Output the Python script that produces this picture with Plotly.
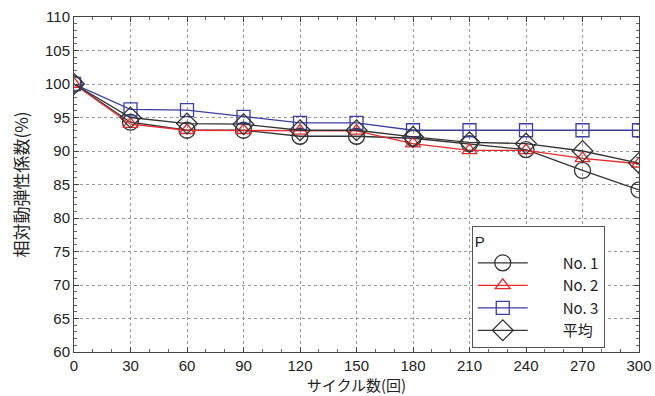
import plotly.graph_objects as go

cycles = [0, 30, 60, 90, 120, 150, 180, 210, 240, 270, 300]
no1 = [100, 94.3, 93.1, 93.1, 92.2, 92.2, 91.9, 91.1, 90.2, 87.1, 84.2]
no2 = [100, 94.0, 93.1, 93.1, 93.0, 93.0, 91.1, 90.1, 90.1, 88.9, 88.1]
no3 = [100, 96.2, 96.1, 95.1, 94.2, 94.2, 93.1, 93.1, 93.1, 93.1, 93.1]
avg = [100, 95.0, 94.1, 94.0, 93.1, 93.1, 92.1, 91.3, 91.1, 90.0, 88.2]

names = ["No. 1", "No. 2", "No. 3", "平均"]
series = [no1, no2, no3, avg]
colors = ["#333333", "#e8282b", "#3a3fa0", "#333333"]
symbols = ["circle-open", "triangle-up-open", "square-open", "diamond-open"]
sizes = [16, 13, 13, 16]

PAD = "\u2003\u2003"

fig = go.Figure()
for name, ys, c, s, sz in zip(names, series, colors, symbols, sizes):
    fig.add_trace(go.Scatter(
        x=cycles, y=ys, mode="lines+markers", name=PAD + name,
        line=dict(color=c, width=1.3),
        marker=dict(symbol=s, size=sz, color=c, line=dict(width=1.3, color=c)),
    ))

axis_common = dict(
    showline=True, linecolor="#444", linewidth=1, mirror="allticks",
    ticks="inside", ticklen=5, tickcolor="#444",
    showgrid=True, gridcolor="#999", griddash="dot", gridwidth=1,
    zeroline=False, automargin=False,
    tickfont=dict(family="Liberation Sans, Arial", size=15, color="#222"),
)

fig.update_xaxes(
    range=[0, 300], tickvals=cycles, **axis_common,
    minor=dict(ticks="inside", ticklen=3, dtick=10, tickcolor="#666", showgrid=False),
    title=dict(text="サイクル数(回)", font=dict(family="Noto Sans CJK JP", size=15, color="#222"), standoff=4),
)
fig.update_yaxes(
    range=[60, 110], dtick=5, **axis_common,
    minor=dict(ticks="inside", ticklen=3, dtick=1, tickcolor="#666", showgrid=False),
    title=dict(text="相対動弾性係数(%)", font=dict(family="Noto Sans CJK JP", size=17, color="#222"), standoff=12),
)

fig.update_layout(
    width=655, height=396,
    margin=dict(l=74, r=16, t=17, b=44),
    plot_bgcolor="white", paper_bgcolor="white",
    legend=dict(
        title=dict(text="P", font=dict(family="Liberation Sans, Arial", size=15, color="#222")),
        x=0.704, y=0.376, xanchor="left", yanchor="top",
        bgcolor="white", bordercolor="#555", borderwidth=1,
        font=dict(family="Noto Sans CJK JP, Liberation Sans", size=15, color="#222"),
        itemwidth=50, tracegroupgap=0,
    ),
)

fig.write_html("out.html")
